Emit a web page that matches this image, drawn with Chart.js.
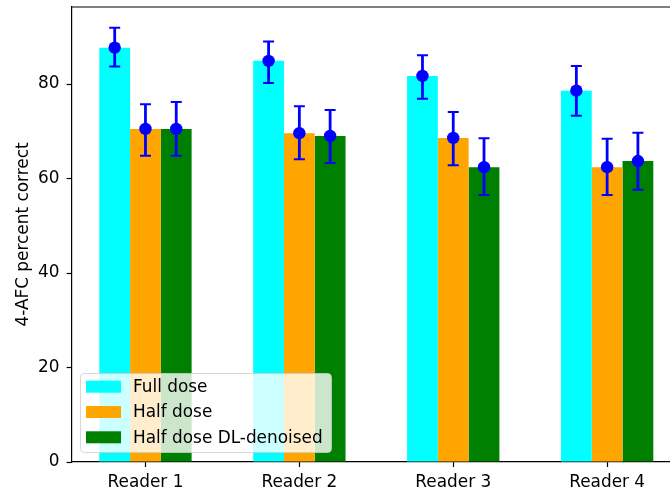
<!DOCTYPE html>
<html>
<head>
<meta charset="utf-8">
<script src="https://cdn.jsdelivr.net/npm/chart.js@4"></script>
<style>
  html, body { margin: 0; padding: 0; overflow: hidden; background: #fff; }
  canvas { display: block; }
</style>
</head>
<body>
<canvas id="chart" width="690" height="493"></canvas>
<script>
// Data
const readers = ['Reader 1', 'Reader 2', 'Reader 3', 'Reader 4'];
const seriesNames = ['Full dose', 'Half dose', 'Half dose DL-denoised'];
const seriesColors = ['#00ffff', '#ffa500', '#008000'];

const fullDose = [87.7, 84.9, 81.7, 78.6];
const fullLow = [83.7, 80.2, 76.9, 73.3];
const fullHigh = [91.9, 89.0, 86.1, 83.8];

const halfDose = [70.5, 69.6, 68.6, 62.4];
const halfLow = [64.8, 64.1, 62.8, 56.5];
const halfHigh = [75.7, 75.3, 74.1, 68.4];

const dlDose = [70.5, 69.0, 62.4, 63.7];
const dlLow = [64.8, 63.3, 56.5, 57.6];
const dlHigh = [76.2, 74.5, 68.5, 69.7];

const yTicks = [0, 20, 40, 60, 80];

const values = [fullDose, halfDose, dlDose];
const lows = [fullLow, halfLow, dlLow];
const highs = [fullHigh, halfHigh, dlHigh];

const FONT = { family: 'DejaVu Sans', size: 16.9 };

Chart.defaults.color = '#000';
Chart.defaults.font.family = FONT.family;
Chart.defaults.font.size = FONT.size;

// Error bars, markers, top spine and legend box
const extras = {
    id: 'extras',
    afterDatasetsDraw(chart) {
        const ctx = chart.ctx;
        const y = chart.scales.y;
        ctx.save();
        ctx.strokeStyle = '#0000ff';
        ctx.fillStyle = '#0000ff';
        values.forEach((vals, i) => {
            const meta = chart.getDatasetMeta(i);
            meta.data.forEach((bar, j) => {
                const x = bar.x;
                const yl = y.getPixelForValue(lows[i][j]);
                const yh = y.getPixelForValue(highs[i][j]);
                ctx.lineWidth = 2.8;
                ctx.beginPath();
                ctx.moveTo(x, yl);
                ctx.lineTo(x, yh);
                ctx.stroke();
                ctx.lineWidth = 2;
                ctx.beginPath();
                ctx.moveTo(x - 5.5, yl);
                ctx.lineTo(x + 5.5, yl);
                ctx.moveTo(x - 5.5, yh);
                ctx.lineTo(x + 5.5, yh);
                ctx.stroke();
                ctx.beginPath();
                ctx.arc(x, y.getPixelForValue(vals[j]), 6.2, 0, Math.PI * 2);
                ctx.fill();
            });
        });
        ctx.restore();
    },
    afterDraw(chart) {
        const ctx = chart.ctx;
        const a = chart.chartArea;
        ctx.save();
        // top spine
        ctx.strokeStyle = '#000';
        ctx.lineWidth = 1.2;
        ctx.beginPath();
        ctx.moveTo(a.left, a.top);
        ctx.lineTo(a.right + 20, a.top);
        ctx.stroke();

        // legend
        const bx = 80.5, by = 373.5, bw = 251, bh = 79, r = 4;
        ctx.beginPath();
        ctx.roundRect(bx, by, bw, bh, r);
        ctx.fillStyle = 'rgba(255,255,255,0.8)';
        ctx.fill();
        ctx.strokeStyle = 'rgba(204,204,204,0.8)';
        ctx.lineWidth = 1;
        ctx.stroke();

        ctx.font = FONT.size + 'px ' + FONT.family;
        ctx.textBaseline = 'middle';
        ctx.textAlign = 'left';
        seriesNames.forEach((name, i) => {
            const cy = 386.7 + i * 25.3;
            ctx.fillStyle = seriesColors[i];
            ctx.fillRect(86, cy - 6, 35, 12);
            ctx.fillStyle = '#000';
            ctx.fillText(name, 133, cy + 1);
        });
        ctx.restore();
    }
};

new Chart(document.getElementById('chart'), {
    type: 'bar',
    data: {
        datasets: values.map((vals, i) => ({
            label: seriesNames[i],
            data: vals.map((v, j) => ({ x: j, y: v })),
            backgroundColor: seriesColors[i],
            borderWidth: 0,
            categoryPercentage: 0.6,
            barPercentage: 1.0
        }))
    },
    options: {
        responsive: false,
        animation: false,
        layout: { padding: { left: 0, top: 7, right: 9, bottom: 0 } },
        plugins: {
            legend: { display: false },
            tooltip: { enabled: false }
        },
        scales: {
            x: {
                type: 'linear',
                min: -0.48,
                max: 3.48,
                offset: false,
                afterFit(scale) {
                    scale.height = 31;
                    scale.paddingLeft = 0;
                    scale.paddingRight = 0;
                },
                grid: {
                    drawOnChartArea: false,
                    drawTicks: true,
                    tickLength: 5,
                    tickColor: '#000',
                    tickWidth: 1.2,
                    offset: false
                },
                border: { display: true, color: '#000', width: 1.2 },
                ticks: {
                    stepSize: 1,
                    includeBounds: false,
                    padding: 5,
                    maxRotation: 0,
                    autoSkip: false,
                    callback: (v) => readers[v] !== undefined ? readers[v] : ''
                }
            },
            y: {
                min: 0,
                max: 96.3,
                afterFit(scale) {
                    scale.width = 71.6;
                    scale.paddingTop = 0;
                    scale.paddingBottom = 0;
                },
                afterBuildTicks(scale) { scale.ticks = yTicks.map(v => ({ value: v })); },
                grid: {
                    drawOnChartArea: false,
                    drawTicks: true,
                    tickLength: 5,
                    tickColor: '#000',
                    tickWidth: 1.2
                },
                border: { display: true, color: '#000', width: 1.2 },
                ticks: { padding: 7 },
                title: {
                    display: true,
                    text: '4-AFC percent correct',
                    padding: { top: 13, bottom: 0 }
                }
            }
        }
    },
    plugins: [extras]
});
</script>
</body>
</html>
